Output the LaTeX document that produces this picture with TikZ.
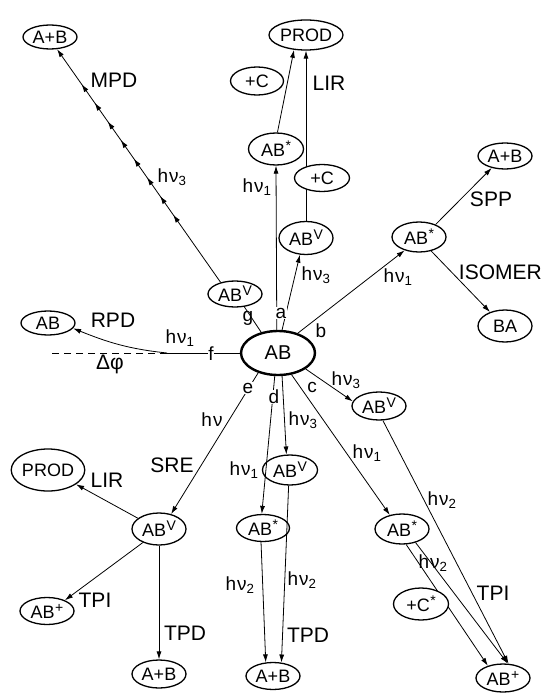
\documentclass[tikz,border=0pt]{standalone}
\usepackage{fontspec}
\setmainfont{Liberation Sans}
\usetikzlibrary{shapes.geometric,arrows.meta,decorations.markings}
\newcommand\nodefnt{\fontsize{18}{20}\selectfont}
\newcommand\lblfnt{\fontsize{21}{23}\selectfont}
\newcommand\hnfnt{\fontsize{19}{21}\selectfont}
\newcommand\hnu[1]{h\kern1pt ν\textsubscript{#1}}
\newcommand\hnuplain{h\kern1pt ν}
\newcommand\sups[1]{\kern0.5pt\raisebox{6pt}{\fontsize{14}{14}\selectfont #1}}
\begin{document}
\begin{tikzpicture}[x=1pt,y=-1pt,
  st/.style={draw, ellipse, line width=1.3pt, inner sep=0pt, font=\nodefnt, fill=white},
  conn/.style={line width=0.8pt},
  arr/.style={conn, -{Latex[length=8pt,width=5pt]}},
  lbl/.style={font=\lblfnt, inner sep=1pt},
  hn/.style={font=\hnfnt, inner sep=1pt},
  let/.style={font=\hnfnt, inner sep=0.5pt, fill=white},
  ladder/.style={conn, -{Latex[length=8pt,width=5pt]},
    postaction={decorate},
    decoration={markings, mark=between positions 0.29 and 0.93 step 0.08 with {\arrow{Latex[length=8pt,width=5pt]}}}}
]
\useasboundingbox (0,0) rectangle (542,695);
% nodes
\node[st, minimum width=74, minimum height=44, line width=2.4pt, font=\fontsize{20}{22}\selectfont] (ABc) at (278,353) {AB};
\node[st, minimum width=54, minimum height=24] (ABtl) at (50,37) {A+B};
\node[st, minimum width=74, minimum height=30] (PRODt) at (306,35) {PROD};
\node[st, minimum width=53, minimum height=28] (Cl) at (257,81) {+C};
\node[st, minimum width=55, minimum height=32] (ABsu) at (276,149) {AB\sups{*}};
\node[st, minimum width=54, minimum height=33] (ABva) at (306,238) {AB\sups{V}};
\node[st, minimum width=54, minimum height=26] (ABvg) at (235,294) {AB\sups{V}};
\node[st, minimum width=54, minimum height=30] (ABsb) at (419,237) {AB\sups{*}};
\node[st, minimum width=54, minimum height=26] (ABr) at (505,156) {A+B};
\node[st, minimum width=54, minimum height=32] (BA) at (505,326) {BA};
\node[st, minimum width=54, minimum height=24] (ABl) at (48,323) {AB};
\node[st, minimum width=54, minimum height=28] (ABvc) at (379,406) {AB\sups{V}};
\node[st, minimum width=54, minimum height=30] (ABslr) at (402,529) {AB\sups{*}};
\node[st, minimum width=54, minimum height=28] (ABpr) at (503,678) {AB\sups{+}};
\node[st, minimum width=54, minimum height=32] (ABvS) at (159,529) {AB\sups{V}};
\node[st, minimum width=72, minimum height=42] (PRODl) at (48,470) {PROD};
\node[st, minimum width=54, minimum height=27] (ABpl) at (47,611) {AB\sups{+}};
\node[st, minimum width=54, minimum height=28] (ABbl) at (159,674) {A+B};
\node[st, minimum width=55, minimum height=30] (ABvd) at (290,470) {AB\sups{V}};
\node[st, minimum width=53, minimum height=27] (ABslm) at (263,528) {AB\sups{*}};
\node[st, minimum width=54, minimum height=27] (ABbm) at (273,676) {A+B};
% connectors from AB
\draw[arr] (ABc.93) -- (ABsu.south);
\draw[arr] (ABc.80) -- (ABva.250);
\draw[arr] (ABc.45) -- (ABsb.223);
\draw[arr] (ABc.330) -- (ABvc.170);
\draw[arr] (ABc.302) -- (ABslr.131);
\draw[arr] (ABc.280) -- (ABvd.103);
\draw[arr] (ABc.262) -- (ABslm.95);
\draw[arr] (ABc.225) -- (ABvS.51);
\draw[conn] (ABc.129) -- (ABvg.306);
\coordinate (c1) at (167,353);
\coordinate (c2) at (52,353);
\draw[conn] (ABc.west) -- (c1);
\draw[conn, dashed, dash pattern=on 7pt off 5pt] (c1) -- (c2);
\draw[arr] (c1) to[out=174,in=-22] (ABl.-12);
% secondary connectors
\draw[ladder] (ABvg.141) -- (ABtl.300);
\draw[arr] (ABsu.85) -- (PRODt.231);
\draw[arr] (ABva.north) -- (PRODt.south);
\draw[arr] (ABsb.37) -- (ABr.222);
\draw[arr] (ABsb.311) -- (BA.137);
\draw[arr] (ABvc.285) -- (ABpr.69);
\draw[arr] (ABslr.315) -- (ABpr.72);
\draw[arr] (ABslr.285) -- (ABpr.141);
\draw[arr] (ABvS.153) -- (PRODl.333);
\draw[arr] (ABvS.220) -- (ABpl.31);
\draw[arr] (ABvS.south) -- (ABbl.north);
\draw[arr] (ABslm.262) -- (ABbm.118);
\draw[arr] (ABvd.265) -- (ABbm.58);
% nodes lying on lines
\node[st, minimum width=55, minimum height=27] (Cr) at (322,178) {+C};
\node[st, minimum width=55, minimum height=32] (Cs) at (421,604) {+C\sups{*}};
% branch letters
\node[let] (la) at (281,313) {a};
\node[let, fill=none] (lb) at (321,331) {b};
\node[let, fill=none] (lc) at (312,387) {c};
\node[let] (ld) at (274,397) {d};
\node[let] (le) at (248,388) {e};
\node[let] (lf) at (211,354) {f};
\node[let, fill=none] (lg) at (248,318) {g};
% process labels
\node[lbl] (tMPD) at (114,80) {MPD};
\node[lbl] (tLIRt) at (329,83) {LIR};
\node[lbl] (tSPP) at (491,199) {SPP};
\node[lbl, anchor=east] (tISO) at (543,272) {ISOMER};
\node[lbl] (tRPD) at (113,320) {RPD};
\node[lbl] (tDphi) at (110,364) {Δφ};
\node[lbl] (tSRE) at (172,465) {SRE};
\node[lbl] (tLIRl) at (107,480) {LIR};
\node[lbl] (tTPIl) at (95,600) {TPI};
\node[lbl] (tTPDl) at (185,633) {TPD};
\node[lbl] (tTPDm) at (308,635) {TPD};
\node[lbl] (tTPIr) at (493,593) {TPI};
% photon labels
\node[hn] (h1) at (172,177) {\hnu{3}};
\node[hn] (h2) at (257,187) {\hnu{1}};
\node[hn] (h3) at (316,275) {\hnu{3}};
\node[hn] (h4) at (398,277) {\hnu{1}};
\node[hn] (h5) at (346,380) {\hnu{3}};
\node[hn] (h6) at (367,453) {\hnu{1}};
\node[hn] (h7) at (442,500) {\hnu{2}};
\node[hn] (h8) at (433,563) {\hnu{2}};
\node[hn] (h9) at (303,420) {\hnu{3}};
\node[hn] (h10) at (244,470) {\hnu{1}};
\node[hn] (h11) at (240,585) {\hnu{2}};
\node[hn] (h12) at (302,580) {\hnu{2}};
\node[hn] (h13) at (212,420) {\hnuplain};
\node[hn] (h14) at (180,338) {\hnu{1}};
\end{tikzpicture}
\end{document}
